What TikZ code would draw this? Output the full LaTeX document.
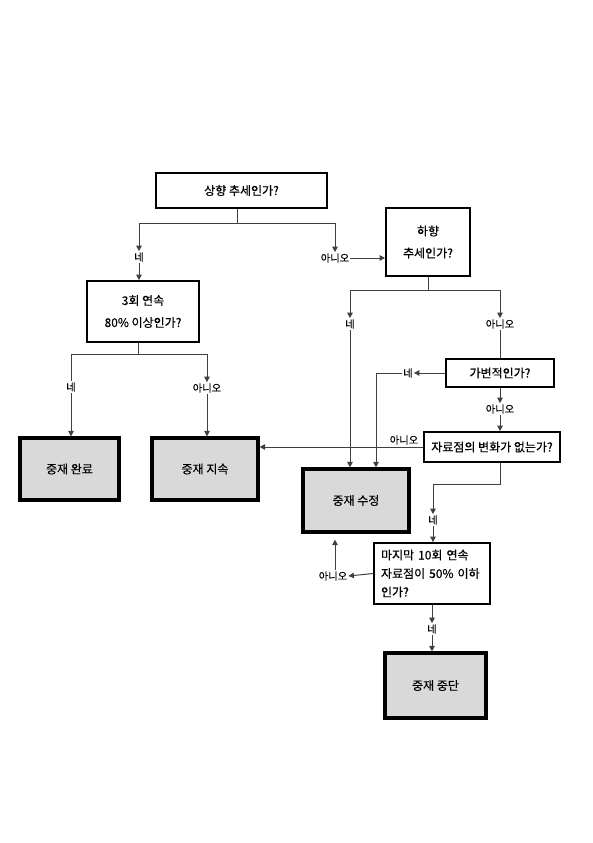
\documentclass[tikz,border=0pt]{standalone}
\usepackage{fontspec}
\setmainfont{Noto Sans CJK KR}[FakeBold=0.35]
\usetikzlibrary{arrows.meta,calc}
\definecolor{termgray}{HTML}{D9D9D9}
\definecolor{linegray}{HTML}{404040}
\begin{document}
\begin{tikzpicture}[x=1pt,y=-1pt,
 q/.style={draw=black,line width=1.8pt,fill=white,font=\fontsize{12}{22}\selectfont,align=center,inner sep=0pt},
 term/.style={draw=black,line width=3.2pt,fill=termgray,font=\fontsize{12}{14}\selectfont,inner sep=0pt},
 lbl/.style={font=\fontsize{10.3}{11}\selectfont,inner sep=1pt},
 ln/.style={draw=linegray,line width=1pt},
 arr/.style={ln,-{Triangle[length=5.5pt,width=5.5pt]}}]
\fill[white] (0,0) rectangle (593,843);
\useasboundingbox (0,0) rectangle (593,843);

% question boxes
\node[q,minimum width=171pt,minimum height=35pt] (A) at (241.5,190.5) {상향 추세인가?};
\node[q,minimum width=84pt,minimum height=68pt] (C) at (428,242) {하향\\추세인가?};
\node[q,minimum width=112pt,minimum height=61pt] (B) at (143,311.5) {3회 연속\\80\% 이상인가?};
\node[q,minimum width=108pt,minimum height=28pt] (F) at (500,373) {가변적인가?};
\node[q,minimum width=136pt,minimum height=30pt] (G) at (492,447) {자료점의 변화가 없는가?};
\node[q,minimum width=116pt,minimum height=61pt,text width=102pt,align=left,font=\fontsize{12}{18.5}\selectfont] (H) at (432,573.5) {마지막 10회 연속\\자료점이 50\% 이하\\인가?};

% terminal boxes
\node[term,minimum width=99pt,minimum height=62pt] (D) at (69.5,469) {중재 완료};
\node[term,minimum width=106pt,minimum height=62pt] (E) at (205,469) {중재 지속};
\node[term,minimum width=106pt,minimum height=63pt] (I) at (356,500.5) {중재 수정};
\node[term,minimum width=101pt,minimum height=65pt] (J) at (435.5,685.5) {중재 중단};

% labels
\node[lbl] (l1) at (139,257) {네};
\node[lbl] (l2) at (335,258) {아니오};
\node[lbl] (l3) at (350,324) {네};
\node[lbl] (l4) at (500,324) {아니오};
\node[lbl] (l5) at (71,387) {네};
\node[lbl] (l6) at (207,388) {아니오};
\node[lbl] (l7) at (408,373) {네};
\node[lbl] (l8) at (500,409) {아니오};
\node[lbl] (l9) at (404,440) {아니오};
\node[lbl] (l10) at (433,520) {네};
\node[lbl] (l11) at (333,576) {아니오};
\node[lbl] (l12) at (432,629) {네};

% connectors
\draw[arr] ([xshift=-4.5pt]A.south) -- ++(0,15) -| (l1.north);
\draw[arr] ([xshift=-4.5pt]A.south) -- ++(0,15) -| (l2.north);
\draw[arr] (l1.south) -- (l1.south |- B.north);
\draw[arr] (l2.east) -- (l2.east -| C.west);

\draw[arr] (C.south) -- ++(0,14) -| (l3.north);
\draw[arr] (C.south) -- ++(0,14) -| (l4.north);
\draw[arr] (l3.south) -- (l3.south |- I.north);
\draw[ln] (l4.south) -- (l4.south |- F.north);

\draw[ln] ([xshift=-5pt]B.south) -- ++(0,12) -| (l5.north);
\draw[arr] ([xshift=-5pt]B.south) -- ++(0,12) -| (l6.north);
\draw[arr] (l5.south) -- (l5.south |- D.north);
\draw[arr] (l6.south) -- (l6.south |- E.north);

\draw[arr] (F.west) -- (l7.east);
\draw[arr] (l7.west) -| ([xshift=20pt]I.north);
\draw[arr] (F.south) -- (F.south |- l8.north);
\draw[arr] (l8.south) -- (l8.south |- G.north);

\draw[arr] (G.west) -- (G.west -| E.east);
\draw[arr] ([xshift=8pt]G.south) -- ++(0,22) -| (l10.north);
\draw[arr] (l10.south) -- (l10.south |- H.north);

\draw[arr] (H.west) -- (l11.east);
\draw[arr,shorten >=6pt] ([xshift=2pt]l11.north) -- ([xshift=2pt]l11.north |- I.south);
\draw[arr] (H.south) -- (H.south |- l12.north);
\draw[arr] (l12.south) -- (l12.south |- J.north);
\end{tikzpicture}
\end{document}
